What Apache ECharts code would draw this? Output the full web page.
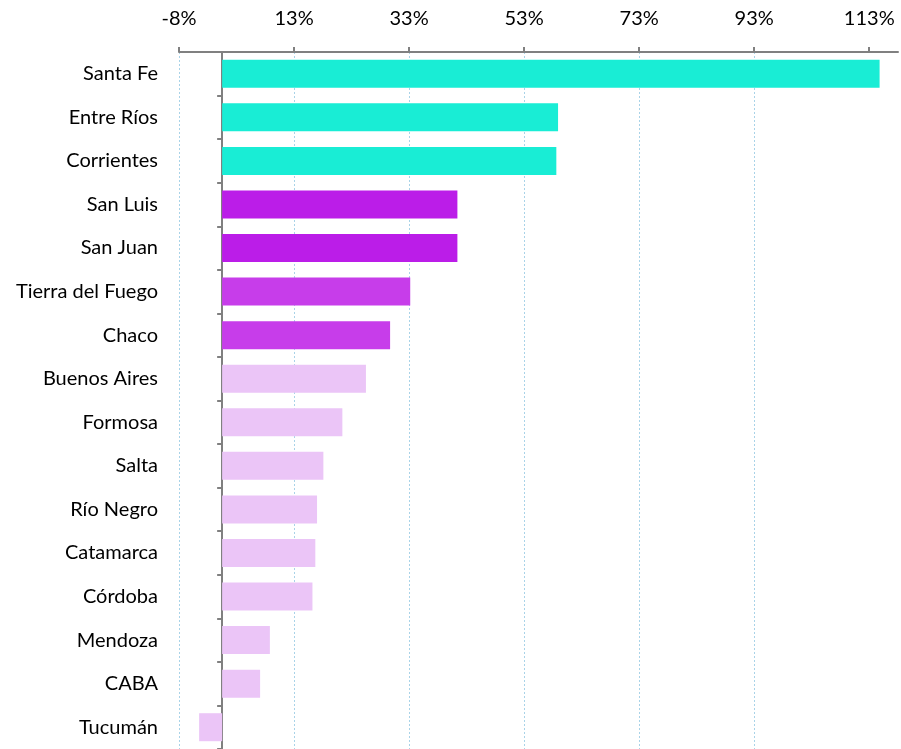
<!DOCTYPE html>
<html>
<head>
<meta charset="utf-8">
<script src="https://cdn.jsdelivr.net/npm/echarts@6/dist/echarts.min.js"></script>
<style>
  html, body { margin: 0; padding: 0; background: #ffffff; }
  #chart { width: 901px; height: 749px; }
</style>
</head>
<body>
<div id="chart"></div>
<script>
// provinces, top to bottom
const provinces = [
  'Santa Fe', 'Entre Ríos', 'Corrientes', 'San Luis', 'San Juan',
  'Tierra del Fuego', 'Chaco', 'Buenos Aires', 'Formosa', 'Salta',
  'Río Negro', 'Catamarca', 'Córdoba', 'Mendoza', 'CABA', 'Tucumán'
]
// variation in percent
const variation = [
  114.3, 58.4, 58.1, 40.9, 40.9,
  32.7, 29.2, 25.0, 20.9, 17.6,
  16.5, 16.2, 15.7, 8.3, 6.6, -4.0
]
// value axis ticks (shown rounded: -8%, 13%, 33% ...)
const xTicks = [-7.5, 12.5, 32.5, 52.5, 72.5, 92.5, 112.5]

// bar colour by group
const groupColors = ['#19EDD5', '#BB1DE8', '#C73DEA', '#EBC5F7']
const groupOf = (i) => (i < 3 ? 0 : i < 5 ? 1 : i < 7 ? 2 : 3)

// round half away from zero, like the spreadsheet does
const pct = (v) => (v < 0 ? '-' : '') + Math.round(Math.abs(v)) + '%'

const chart = echarts.init(document.getElementById('chart'))

const option = {
  animation: false,
  backgroundColor: '#ffffff',
  grid: { left: 179, right: 3, top: 52, bottom: 0, outerBoundsMode: 'none' },
  xAxis: {
    type: 'value',
    position: 'top',
    min: -7.5,
    max: 117.5,
    interval: 20,
    axisLine: { show: true, lineStyle: { color: '#808080', width: 2 } },
    axisTick: {
      show: true,
      length: 5,
      customValues: xTicks,
      lineStyle: { color: '#808080', width: 2 }
    },
    axisLabel: {
      customValues: xTicks,
      margin: 23,
      color: '#000000',
      fontFamily: 'Lato',
      fontSize: 20,
      formatter: pct
    },
    splitLine: {
      show: true,
      showMaxLine: false,
      lineStyle: { color: '#A9D3E8', type: [2, 2], width: 1 }
    }
  },
  yAxis: {
    type: 'category',
    inverse: true,
    data: provinces,
    axisLine: { show: true, onZero: true, lineStyle: { color: '#808080', width: 2 } },
    axisTick: { show: true, length: 5, lineStyle: { color: '#808080', width: 2 } },
    axisLabel: {
      margin: 21,
      color: '#000000',
      fontFamily: 'Lato',
      fontSize: 20
    },
    splitLine: { show: false }
  },
  series: [
    {
      type: 'bar',
      barWidth: 28,
      data: variation.map((v, i) => ({
        value: v,
        itemStyle: { color: groupColors[groupOf(i)] }
      }))
    }
  ]
}

chart.setOption(option)
</script>
</body>
</html>
